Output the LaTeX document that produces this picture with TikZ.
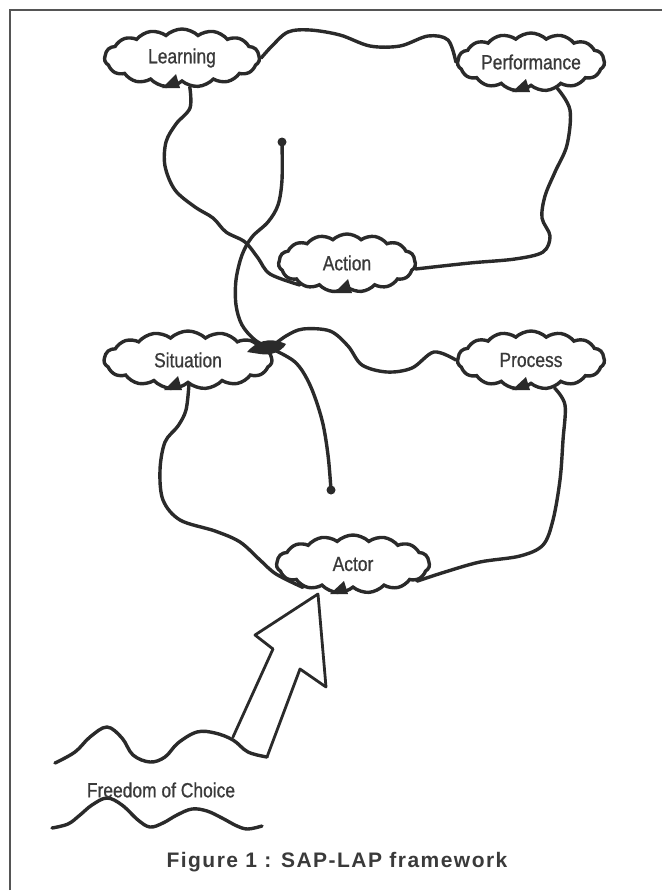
\documentclass[tikz,border=0pt]{standalone}
\usepackage{fontspec}
\setmainfont{Liberation Sans}
\newfontfamily\labfont[FakeStretch=0.85,FakeBold=0.8]{Liberation Sans}
\newfontfamily\capfont[LetterSpace=7]{Liberation Sans}
\usetikzlibrary{shapes.symbols}
\definecolor{ink}{HTML}{2A2A2A}
\definecolor{txt}{HTML}{3A3A3A}
\definecolor{frame}{HTML}{555555}
\begin{document}
\begin{tikzpicture}[x=1pt,y=-1pt,
  cl/.style={cloud, cloud puffs=15, cloud puff arc=88, cloud ignores aspect,
    draw=ink, line width=3.4pt, minimum width=#1, minimum height=58pt,
    inner sep=0pt, font=\labfont\fontsize{20.5}{24}\selectfont, text=txt},
  link/.style={draw=ink, line width=3.4pt, line cap=round, line join=round},
  wedge/.style={fill=ink},
  dot/.style={circle, fill=ink, inner sep=0pt, minimum size=9pt},
  border/.style={draw=frame, line width=2pt}]
\useasboundingbox (0,0) rectangle (662,892);
% frame
\draw[border] (10,890) -- (10,10) -- (662,10);
% clouds
\node[cl=155pt] (learn)  at (182,58)  {Learning};
\node[cl=147pt] (perf)   at (531,62)  {Performance};
\node[cl=137pt] (action) at (347,263) {Action};
\node[cl=168pt] (sit)    at (188,360) {Situation};
\node[cl=147pt] (proc)   at (531,360) {Process};
\node[cl=153pt] (actor)  at (353,564) {Actor};
% dots
\node[dot] (d1) at (282,142) {};
\node[dot] (d2) at (331,490) {};
\coordinate (j) at (270,348);
% junction blob
\fill[ink] (247,352) .. controls (256,342) and (268,336) .. (286,344)
  .. controls (282,351) and (272,356) .. (260,354) -- cycle;
% wedges on clouds
\fill[wedge] (162,88) -- (176,74) -- (180,88) -- cycle;
\fill[wedge] (512,92) -- (526,79) -- (530,92) -- cycle;
\fill[wedge] (334,293) -- (348,279) -- (352,293) -- cycle;
\fill[wedge] (164,390) -- (178,376) -- (182,390) -- cycle;
\fill[wedge] (512,390) -- (526,377) -- (530,390) -- cycle;
\fill[wedge] (330,594) -- (344,581) -- (348,594) -- cycle;
% connectors
\draw[link] plot[smooth, tension=0.55] coordinates {(learn.east) (272,46) (288,32) (310,30) (340,35) (370,46) (400,46) (428,36) (448,40) (perf.west)};
\draw[link] plot[smooth, tension=0.55] coordinates {(learn.-75) (190,108) (176,124) (166,142) (165,166) (175,190) (195,207) (213,218) (226,232) (245,242) (258,258) (270,274) (action.205)};
\draw[link] plot[smooth, tension=0.55] coordinates {(perf.-45) (570,110) (567,145) (555,172) (545,196) (542,218) (550,236) (543,252) (515,259) (470,263) (action.-5)};
\draw[link] plot[smooth, tension=0.55] coordinates {(j) (286,336) (303,329) (330,331) (348,346) (362,365) (387,372) (412,368) (434,352) (proc.west)};
\draw[link] plot[smooth, tension=0.55] coordinates {(sit.-88) (186,410) (178,426) (165,442) (160,470) (163,500) (180,520) (215,531) (240,542) (260,560) (276,574) (actor.205)};
\draw[link] plot[smooth, tension=0.55] coordinates {(proc.-50) (565,405) (563,440) (560,480) (553,520) (543,545) (520,556) (480,562) (445,572) (actor.-15)};
\draw[link] plot[smooth, tension=0.55] coordinates {(d1) (282,180) (278,205) (268,222) (252,237) (242,255) (236,280) (236,305) (242,325) (255,340) (j)};
\draw[link] plot[smooth, tension=0.55] coordinates {(j) (295,362) (310,385) (322,420) (328,455) (d2)};
% big arrow
\coordinate (tip) at (318,594);
\draw[link, line width=2.8pt, fill=white] (273,649) -- (255,635) -- (tip) -- (326,687) -- (300,669) -- (267,757);
\draw[link, line width=2.8pt] (273,649) -- (233,737);
% waves
\draw[link] plot[smooth, tension=0.6] coordinates {(55,763) (75,752) (90,737) (107,727) (122,738) (133,755) (150,762) (165,757) (178,743) (197,732) (215,733) (233,740) (248,752) (267,757)};
\draw[link] plot[smooth, tension=0.6] coordinates {(52,828) (68,824) (80,815) (92,805) (107,798) (122,805) (138,820) (150,827) (163,823) (177,815) (192,809) (207,811) (222,818) (237,826) (248,829) (262,826)};
\node[font=\labfont\fontsize{20.5}{24}\selectfont, text=txt] (foc) at (161,790) {Freedom of Choice};
\node[font=\capfont\bfseries\fontsize{21}{24}\selectfont, text=txt] (cap) at (337,862) {Figure 1 : SAP-LAP framework};
\end{tikzpicture}
\end{document}
